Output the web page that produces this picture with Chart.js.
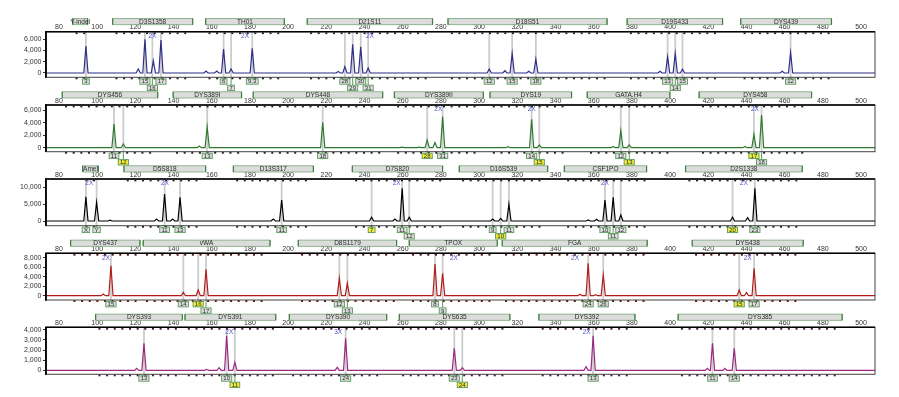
<!DOCTYPE html>
<html>
<head>
<meta charset="utf-8">
<script src="https://cdn.jsdelivr.net/npm/chart.js@4"></script>
<style>
  body { margin: 0; background: #fff; width: 899px; height: 397px; position: relative; overflow: hidden; }
  canvas { position: absolute; left: 0; }
</style>
</head>
<body>
<script>
// size axis (bp) shared by all dye panels
const xTicks = [80, 100, 120, 140, 160, 180, 200, 220, 240, 260, 280, 300, 320, 340, 360, 380, 400, 420, 440, 460, 480, 500];
const X_MIN = 73.2;
const X_MAX = 507.3;
const PEAK_HALF = 1.1; // half width of a peak at its base, in bp

// ---- blue panel ----
const p1Loci = [['Y-indel', 87.2, 95.0], ['D3S1358', 108.1, 150.0], ['TH01', 156.8, 198.0], ['D21S11', 210.0, 275.6],
  ['D18S51', 283.7, 367.0], ['D19S433', 377.5, 427.5], ['DYS439', 437.0, 484.5]];
const p1PeakBp = [94.1, 121.5, 125.0, 129.4, 133.4, 157.0, 162.6, 166.2, 170.1, 181.2, 226.2, 229.7, 233.8, 238.0, 241.9,
  305.3, 313.5, 317.3, 326.0, 329.7, 394.7, 398.7, 402.7, 406.5, 458.7, 463.1];
const p1PeakRfu = [4770, 700, 5950, 2150, 5830, 350, 350, 4240, 700, 4350, 250, 1120, 5060, 4640, 880,
  700, 400, 3470, 300, 2470, 300, 2880, 3470, 650, 300, 3590];
const p1Alleles = [['3', 94.1, 1], ['15', 125.0, 1], ['16', 128.9, 2], ['17', 133.4, 1], ['6', 166.2, 1], ['7', 170.1, 2],
  ['9.3', 181.2, 1], ['28', 229.7, 1], ['29', 233.8, 2], ['30', 238.0, 1], ['31', 241.9, 2], ['12', 305.3, 1],
  ['15', 317.3, 1], ['18', 329.7, 1], ['13', 398.7, 1], ['14', 402.7, 2], ['15', 406.5, 1], ['12', 463.1, 1]];
const p1Marks = [['2X', 128.9], ['2X', 177.4], ['2X', 242.8]];
const p1YTicks = [0, 2000, 4000, 6000];

// ---- green panel ----
const p2Loci = [['DYS456', 81.7, 131.7], ['DYS389I', 139.8, 175.6], ['DYS448', 181.7, 249.5], ['DYS389II', 255.6, 302.2],
  ['DYS19', 305.7, 348.4], ['GATA.H4', 356.6, 399.9], ['DYS458', 415.2, 474.1]];
const p2PeakBp = [108.8, 113.7, 153.5, 157.6, 218.1, 259.7, 268.6, 272.8, 276.9, 280.9, 315.2, 327.5, 331.5,
  370.2, 374.2, 378.6, 439.2, 443.9, 447.9];
const p2PeakRfu = [3770, 590, 270, 3300, 4040, 100, 100, 1230, 800, 4940, 150, 4520, 430,
  200, 2700, 430, 200, 2130, 5200];
const p2Alleles = [['11', 108.8, 1], ['12', 113.7, 2, 1], ['13', 157.6, 1], ['18', 218.1, 1], ['28', 272.8, 1, 1],
  ['31', 280.9, 1], ['14', 327.5, 1], ['15', 331.5, 2, 1], ['12', 374.2, 1], ['13', 378.6, 2, 1],
  ['17', 443.9, 1, 1], ['18', 447.9, 2]];
const p2Marks = [['2X', 278.6], ['2X', 327.5], ['2X', 444.4]];
const p2YTicks = [0, 2000, 4000, 6000];

// ---- black panel ----
const p3Loci = [['Amel', 92.4, 100.6], ['D5S818', 114.0, 156.8], ['D13S317', 171.3, 213.2], ['D7S820', 233.6, 280.9],
  ['D16S539', 289.6, 335.9], ['CSF1PO', 344.6, 387.7], ['D2S1338', 408.1, 469.2]];
const p3PeakBp = [94.1, 99.7, 106.7, 131.1, 135.3, 139.5, 143.4, 192.2, 196.6, 243.7, 255.9, 259.7, 263.4,
  307.1, 311.3, 315.6, 357.1, 361.5, 365.9, 370.2, 374.2, 432.7, 440.6, 444.4];
const p3PeakRfu = [7210, 5550, 250, 590, 8010, 590, 7030, 590, 6230, 1100, 590, 9700, 1100,
  590, 790, 5040, 300, 500, 6230, 7030, 1780, 1100, 1000, 9700];
const p3Alleles = [['X', 94.1, 1], ['Y', 99.7, 1], ['11', 135.3, 1], ['13', 143.4, 1], ['11', 196.6, 1],
  ['7', 243.7, 1, 1], ['11', 259.7, 1], ['12', 263.4, 2], ['9', 307.1, 1], ['10', 311.3, 2, 1], ['11', 315.6, 1],
  ['10', 365.9, 1], ['11', 370.2, 2], ['12', 374.2, 1], ['20', 432.7, 1, 1], ['23', 444.4, 1]];
const p3Marks = [['2X', 95.9], ['2X', 135.5], ['2X', 256.8], ['2X', 365.9], ['2X', 438.6]];
const p3YTicks = [0, 5000, 10000];

// ---- red panel ----
const p4Loci = [['DYS437', 86.1, 122.4], ['vWA', 124.1, 190.5], ['D8S1179', 205.3, 256.8], ['TPOX', 263.4, 309.5],
  ['FGA', 312.1, 388.0], ['DYS438', 411.6, 469.7]];
const p4PeakBp = [103.2, 107.2, 145.1, 152.9, 157.0, 226.8, 231.0, 276.9, 280.9, 352.8, 357.1, 361.0, 365.0,
  436.2, 440.0, 444.0];
const p4PeakRfu = [350, 6320, 710, 1200, 5560, 3660, 2610, 6670, 4710, 300, 6820, 200, 4360,
  1200, 710, 5770];
const p4Alleles = [['15', 107.2, 1], ['14', 145.1, 1], ['16', 152.9, 1, 1], ['17', 157.0, 2], ['12', 226.8, 1],
  ['13', 231.0, 2], ['8', 276.9, 1], ['9', 280.9, 2], ['24', 357.1, 1], ['26', 365.0, 1], ['15', 436.2, 1, 1],
  ['17', 444.0, 1]];
const p4Marks = [['2X', 104.6], ['2X', 286.8], ['2X', 350.2], ['2X', 440.6]];
const p4YTicks = [0, 2000, 4000, 6000, 8000];

// ---- purple panel ----
const p5Loci = [['DYS393', 99.2, 144.6], ['DYS391', 146.0, 193.5], ['DYS390', 200.6, 251.6], ['DYS635', 258.2, 316.1],
  ['DYS392', 331.3, 381.6], ['DYS385', 404.2, 490.1]];
const p5PeakBp = [120.7, 124.5, 157.3, 163.8, 167.8, 172.1, 225.7, 230.1, 287.0, 291.2, 356.0, 359.7,
  419.5, 422.2, 428.7, 433.6];
const p5PeakRfu = [200, 2660, 100, 260, 3410, 790, 300, 3150, 2170, 260, 350, 3410,
  200, 2660, 200, 2170];
const p5Alleles = [['13', 124.5, 1], ['10', 167.8, 1], ['11', 172.1, 2, 1], ['24', 230.1, 1], ['23', 287.0, 1],
  ['24', 291.2, 2, 1], ['13', 359.7, 1], ['11', 422.2, 1], ['14', 433.6, 1]];
const p5Marks = [['2X', 169.2], ['3X', 226.2], ['2X', 356.3]];
const p5YTicks = [0, 1000, 2000, 3000, 4000];

const FONT = '"Liberation Sans", Arial, sans-serif';
Chart.defaults.font.family = FONT;

const panels = [
  { top: 31.7, bottom: 77.3, yMin: -760, yMax: 7290, yTicks: p1YTicks, color: '#2f2f88', bin: '#222',
    loci: p1Loci, bp: p1PeakBp, rfu: p1PeakRfu, alleles: p1Alleles, marks: p1Marks },
  { top: 105, bottom: 151.7, yMin: -640, yMax: 6800, yTicks: p2YTicks, color: '#2f7a2f', bin: '#222',
    loci: p2Loci, bp: p2PeakBp, rfu: p2PeakRfu, alleles: p2Alleles, marks: p2Marks },
  { top: 179, bottom: 225.7, yMin: -1390, yMax: 12460, yTicks: p3YTicks, color: '#000000', bin: '#222',
    loci: p3Loci, bp: p3PeakBp, rfu: p3PeakRfu, alleles: p3Alleles, marks: p3Marks },
  { top: 253.3, bottom: 300, yMin: -900, yMax: 8930, yTicks: p4YTicks, color: '#b41c1c', bin: '#5a1010',
    loci: p4Loci, bp: p4PeakBp, rfu: p4PeakRfu, alleles: p4Alleles, marks: p4Marks },
  { top: 327.3, bottom: 374.3, yMin: -390, yMax: 4240, yTicks: p5YTicks, color: '#9a2a80', bin: '#4a1640',
    loci: p5Loci, bp: p5PeakBp, rfu: p5PeakRfu, alleles: p5Alleles, marks: p5Marks }
];

// each peak becomes base-apex-base, everything else sits on the baseline
function buildTrace(bps, rfus) {
  const pts = [{ x: X_MIN, y: 0 }];
  bps.forEach((b, i) => {
    pts.push({ x: b - PEAK_HALF, y: 0 }, { x: b, y: rfus[i] }, { x: b + PEAK_HALF, y: 0 });
  });
  pts.push({ x: X_MAX, y: 0 });
  return pts;
}

function epPlugin(p, n) {
  return {
    id: 'ep' + n,
    beforeDatasetsDraw(chart) {
      const { ctx, chartArea: a, scales: { x } } = chart;
      ctx.save();
      ctx.strokeStyle = '#cccccc';
      ctx.lineWidth = 1.8;
      p.alleles.forEach(al => {
        const px = x.getPixelForValue(al[1]);
        ctx.beginPath();
        ctx.moveTo(px, a.top);
        ctx.lineTo(px, a.bottom);
        ctx.stroke();
      });
      ctx.restore();
    },
    afterDraw(chart) {
      const { ctx, chartArea: a, scales: { x } } = chart;
      ctx.save();
      // plot frame
      ctx.strokeStyle = '#444';
      ctx.lineWidth = 1;
      ctx.strokeRect(a.left, a.top, a.right - a.left, a.bottom - a.top);
      ctx.strokeStyle = '#000';
      ctx.lineWidth = 1.5;
      ctx.beginPath();
      ctx.moveTo(a.left, a.bottom);
      ctx.lineTo(a.left, a.top);
      ctx.lineTo(a.right, a.top);
      ctx.stroke();

      // bin markers along top and bottom edge of each locus
      ctx.fillStyle = p.bin;
      p.loci.forEach(l => {
        for (let b = l[1] + 2; b < l[2] - 1; b += 4) {
          const px = x.getPixelForValue(b);
          ctx.fillRect(px - 1, a.top + 0.6, 2, 1.8);
          ctx.fillRect(px - 1, a.bottom + 0.2, 2, 1.8);
        }
      });

      // locus name boxes
      ctx.font = '6.5px ' + FONT;
      ctx.textAlign = 'center';
      ctx.textBaseline = 'middle';
      p.loci.forEach(l => {
        const x0 = x.getPixelForValue(l[1]);
        const x1 = x.getPixelForValue(l[2]);
        const y0 = a.top - 13.2;
        ctx.fillStyle = '#dcdcdc';
        ctx.fillRect(x0, y0, x1 - x0, 6.2);
        ctx.strokeStyle = '#7aa87a';
        ctx.lineWidth = 0.8;
        ctx.strokeRect(x0, y0, x1 - x0, 6.2);
        ctx.strokeStyle = '#3f7f3f';
        ctx.lineWidth = 1.2;
        ctx.beginPath();
        ctx.moveTo(x0, y0); ctx.lineTo(x0, y0 + 6.2);
        ctx.moveTo(x1, y0); ctx.lineTo(x1, y0 + 6.2);
        ctx.stroke();
        ctx.fillStyle = '#2a2a2a';
        ctx.fillText(l[0], (x0 + x1) / 2, y0 + 3.3);
      });

      // allele call labels under the plot
      ctx.font = '6px ' + FONT;
      p.alleles.forEach(al => {
        const px = x.getPixelForValue(al[1]);
        const cy = a.bottom + (al[2] === 1 ? 4.2 : 10.6);
        const w = Math.max(6, ctx.measureText(al[0]).width + 3.5);
        const h = 5.4;
        ctx.strokeStyle = '#4a8a4a';
        ctx.lineWidth = 0.9;
        ctx.beginPath();
        ctx.moveTo(px, a.bottom);
        ctx.lineTo(px, cy - h / 2);
        ctx.stroke();
        ctx.fillStyle = al[3] ? '#ecec3c' : '#dedede';
        ctx.fillRect(px - w / 2, cy - h / 2, w, h);
        ctx.strokeStyle = '#5b985b';
        ctx.strokeRect(px - w / 2, cy - h / 2, w, h);
        ctx.fillStyle = '#2a2a2a';
        ctx.fillText(al[0], px, cy + 0.3);
      });

      // peak flags ("2X")
      ctx.font = '6.5px ' + FONT;
      ctx.fillStyle = '#5050c8';
      p.marks.forEach(m => {
        ctx.fillText(m[0], x.getPixelForValue(m[1]), a.top + 4.6);
      });
      ctx.restore();
    }
  };
}

panels.forEach((p, n) => {
  const cTop = Math.floor(p.top - 20);
  const cBottom = Math.ceil(p.bottom + 17);
  const canvas = document.createElement('canvas');
  canvas.width = 899;
  canvas.height = cBottom - cTop;
  canvas.style.top = cTop + 'px';
  document.body.appendChild(canvas);

  const X_AXIS_H = 8;
  new Chart(canvas.getContext('2d'), {
    type: 'line',
    data: {
      datasets: [{
        data: buildTrace(p.bp, p.rfu),
        borderColor: p.color,
        borderWidth: 1.2,
        pointRadius: 0,
        tension: 0,
        fill: false
      }]
    },
    options: {
      responsive: false,
      animation: false,
      devicePixelRatio: 1,
      events: [],
      layout: {
        padding: { left: 0, right: 24, top: p.top - cTop - X_AXIS_H, bottom: cBottom - p.bottom }
      },
      plugins: { legend: { display: false }, tooltip: { enabled: false } },
      scales: {
        x: {
          type: 'linear',
          position: 'top',
          min: X_MIN,
          max: X_MAX,
          afterBuildTicks: s => { s.ticks = xTicks.map(v => ({ value: v })); },
          afterFit: s => { s.height = X_AXIS_H; },
          grid: { display: false, drawTicks: false },
          border: { display: false },
          ticks: { autoSkip: false, maxRotation: 0, padding: 0, color: '#333', font: { size: 7 } }
        },
        y: {
          type: 'linear',
          min: p.yMin,
          max: p.yMax,
          afterBuildTicks: s => { s.ticks = p.yTicks.map(v => ({ value: v })); },
          afterFit: s => { s.width = 46; },
          grid: { drawOnChartArea: false, tickLength: 3, color: '#333' },
          border: { display: true, color: '#000', width: 1.5 },
          ticks: { autoSkip: false, padding: 1.5, color: '#333', font: { size: 7 } }
        }
      }
    },
    plugins: [epPlugin(p, n)]
  });
});
</script>
</body>
</html>
